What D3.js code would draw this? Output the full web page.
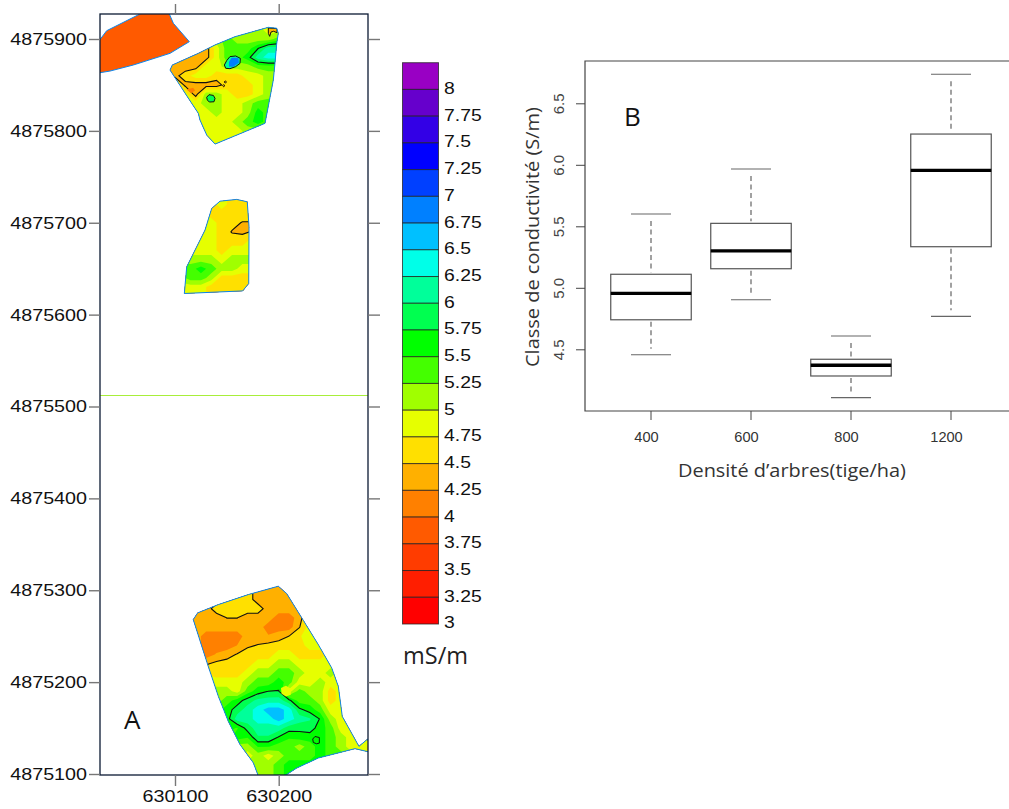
<!DOCTYPE html>
<html><head><meta charset="utf-8">
<script src="https://cdn.jsdelivr.net/npm/d3@7"></script>
<style>html,body{margin:0;padding:0;background:#fff}svg{display:block}</style>
</head><body><svg id="c" width="1009" height="809"></svg>
<script>
// ---------- Panel A : legend ----------
const levels=[8,7.75,7.5,7.25,7,6.75,6.5,6.25,6,5.75,5.5,5.25,5,4.75,4.5,4.25,4,3.75,3.5,3.25,3];
const levelColors=["#9900c4","#6600cc","#3300e6","#0000ff","#0040ff","#0080ff","#00c0ff","#00ffe8","#00ff9a","#00ff50","#00ff00","#44ff00","#a0ff00","#e6ff00","#ffe000","#ffb000","#ff8000","#ff5a00","#ff3c00","#ff1e00","#ff0000"];
const unitLabel="mS/m";
// ---------- Panel A : map axes ----------
const eastTicks=[630100,630200];
const northTicks=[4875100,4875200,4875300,4875400,4875500,4875600,4875700,4875800,4875900];
const E0=630000,N0=4875000;
// ---------- Panel A : field outlines, [east-E0, north-N0] in metres ----------
const fieldSouth=[[199.6,304.4],[207.7,296.4],[223.7,267.3],[238.2,240.8],[251.1,215.5],[257.5,195.4],[261.3,162.7],[277.4,130.1],[285.8,138.1],[290,123.2],[273.6,127.6],[238.2,117.4],[217.4,106.5],[202.9,96],[181,96],[175.5,112.3],[162.7,132],[151.4,157.3],[141.8,184.5],[131.5,219.1],[117.6,268.1],[121.9,275.4],[141.8,284.4],[170.7,295.3]];
const fieldMiddle=[[135.4,715.6],[143.4,723.5],[159.5,725.4],[169.7,722.8],[171.4,695.5],[171.1,633.9],[165.3,625.8],[109,623],[111.3,652],[128.9,691.9]];
const fieldNorth=[[95.2,866.2],[97.4,871.7],[122.5,884.4],[138.6,893.5],[157.9,902.5],[190,912.7],[198.1,911.7],[199.6,906.2],[198.1,895.3],[196.4,873.5],[194.8,855.3],[186.8,808.2],[138.6,785.6],[130.6,795.4],[124.1,811.8],[122.5,819.1],[116.1,830]];
const fieldNorthWest=[[34.1,909],[71.1,930],[93.5,930],[98.4,917.1],[113.8,897.1],[95.2,884.4],[59.8,871.7],[37.3,865.1],[20,861.9],[20,888]];
const fieldNorthWestValue=3.75;
// ---------- Panel A : conductivity read on a 10 m grid ----------
const gridSouth={east:110,north:310,rows:[
[4.25,4.25,4.25,4.25,4.5,4.5,4.5,4.25,4.25,4.25,4.25,4.25,4.25,4.25,4.25,4.25,4.25,4.25,4.25],
[4.25,4.25,4.25,4.25,4.5,4.5,4.5,4.25,4.25,4.25,4.25,4.25,4.25,4.25,4.25,4.25,4.25,4.25,4.25],
[4.25,4.25,4.25,4.25,4.5,4.5,4.5,4.25,4.25,4.25,4.25,4.25,4.25,4.25,4.25,4.25,4.25,4.25,4.25],
[4.25,4.25,4.25,4.5,4.5,4.5,4.5,4.5,4.25,4.25,4.25,4.25,4.25,4.25,4.25,4.25,4.25,4.25,4.25],
[4.25,4.25,4.25,4.25,4.38,4.38,4.25,4.25,4.25,4,4,4.25,4.75,4.75,4.75,4.75,4.75,4.75,4.75],
[4.25,4.25,4.25,4.25,4.25,4.25,4.25,4.25,4,4,4,4.36,4.75,4.75,4.75,4.75,4.75,4.75,4.75],
[4.25,4.25,4,4,4,4,4.25,4.13,4.15,4.25,4.38,4.6,4.75,4.75,4.75,4.75,4.75,4.75,4.75],
[4.25,4.25,4,4,4,4.13,4.3,4.4,4.45,4.5,4.5,4.5,4.75,4.75,4.75,4.75,4.75,4.75,4.75],
[4.25,4.25,4,4.15,4.25,4.4,4.6,4.5,4.5,4.75,4.75,4.5,4.5,4.5,4.75,4.75,4.75,4.75,4.75],
[4.25,4.25,4.34,4.45,4.5,4.5,4.5,4.75,4.75,5,5,4.75,4.75,4.75,4.75,4.75,4.75,4.75,4.75],
[4.5,4.5,4.6,4.5,4.5,4.5,4.75,5,5,5.25,5.25,5,4.75,4.75,5,4.75,4.75,4.75,4.75],
[4.75,4.75,4.75,4.75,4.75,4.75,5,5.25,5.25,5.5,5.25,4.75,4.75,5,4.75,4.75,4.75,4.75,4.75],
[5,5,5,5,5,4.75,5.25,5.5,5.63,5.64,4.75,5.25,5,5,4.5,4.75,4.75,4.75,4.75],
[5,5,5,5,5.25,5.5,5.75,5.95,6,6,5.7,5.25,5.25,5,4.5,4.75,4.75,4.75,4.75],
[5.25,5.25,5.25,5.25,5.5,5.75,6,6.25,6.5,6.5,6.25,5.7,5.5,5.25,4.75,4.75,4.75,4.75,4.75],
[5.25,5.25,5.25,5.25,5.5,6,6,6.25,6.25,6.5,6.25,6,5.9,5.6,5,4.75,4.75,4.75,4.75],
[5.25,5.25,5.25,5.25,5.5,5.35,5.75,6,6,6,5.75,5.7,5.75,5.5,5.25,4.75,4.75,4.75,4.75],
[5.25,5.25,5.25,5.25,5.25,5.5,5.4,5.85,5.85,5.6,5.4,5.5,5.5,5.5,5.25,5,4.75,4.75,4.75],
[5,5,5,5,5,5,5,5.4,5.4,5.25,5.25,5,5.25,5.5,5.25,5,4.75,4.75,4.5],
[5,5,5,5,5,5,4.75,5,4.75,5,5.25,5.25,5.25,5.5,5.25,5.25,5,4.75,4.5],
[5,5,5,5,5,5,5,5,5,5.25,5.5,5.5,5.5,5.5,5.25,5.25,5,5,5],
[5,5,5,5,5,5,5,5,5,5.25,5.5,5.5,5.5,5.5,5.5,5.5,5,5,5],
[5,5,5,5,5,5,5,5,5,5.25,5.5,5.5,5.5,5.5,5.5,5.5,5,5,5]]};
const gridMiddle={east:105,north:730,rows:[
[4.5,4.5,4.5,4.75,4.75,4.5,4.5,4.5],
[4.75,4.75,4.75,4.5,4.75,4.5,4.5,4.5],
[4.75,4.75,4.75,4.5,4.5,4.5,4.5,4.5],
[4.75,4.75,4.75,4.75,4.5,4.45,4.36,4.36],
[4.75,4.75,4.75,4.75,4.5,4.36,4.33,4.4],
[4.75,4.75,4.75,4.75,4.5,4.5,4.5,4.75],
[4.75,4.75,4.75,4.75,4.5,4.75,4.75,4.75],
[5,5,5,5,4.75,5,5,5],
[5.25,5.25,5.5,5.25,5,5,4.75,4.75],
[5,5.25,5.25,5,4.5,4.5,4.5,4.5],
[4.75,4.75,4.75,4.5,4.5,4.5,4.5,4.5],
[4.75,4.75,4.75,4.5,4.5,4.5,4.5,4.5]]};
const gridNorth={east:90,north:920,rows:[
[5,5,5,5,5,5,5,5,5,5,4.75,4.75],
[5,5,5,5,5,5,5,5,5,5,4.75,4.75],
[5,5,5,5,5,5,5.25,5,5,5,5,5.25],
[4.25,4.25,4.25,4.25,4.25,4.75,5.25,5.25,5.25,5.6,6,6],
[4.25,4.25,4.25,4.25,4.25,4.75,5.25,5.25,5.5,6,6.25,6.25],
[4.25,4.25,4.25,4.25,4.75,4.75,5,5,5,5.25,5.25,5.25],
[4.25,4.3,4.5,4.75,4.75,4.5,4.5,4.5,4.75,4.75,5,5],
[4.75,4.75,4.3,4.25,4.25,4.25,4.5,4.5,4.5,4.75,5,5],
[4.75,4.75,4.75,4.25,5,5,4.75,4.5,4.5,4.75,5,5],
[4.75,4.75,4.75,4.75,5,5,4.75,4.75,5,5.25,5.25,5.25],
[4.75,4.75,4.75,4.75,4.75,5,4.75,4.75,5,5.5,5.25,5.25],
[4.75,4.75,4.75,4.75,4.75,4.75,4.75,5,5.25,5.5,5.25,5.25],
[4.75,4.75,4.75,4.75,4.75,4.75,4.75,4.75,5,5,5,5],
[4.75,4.75,4.75,4.75,4.75,4.75,4.75,4.75,5,4.75,4.75,4.75],
[4.75,4.75,4.75,4.75,4.75,4.75,4.75,4.75,4.75,4.75,4.75,4.75]]};
const contourLines=[4.5,5.75];
// features too small for the 10 m grid
const patchesNorth=[
 {value:6,outlined:true,pts:[[147.6,871.7],[149.8,876.4],[153,880.8],[158.5,881.5],[163,878.9],[162.7,873.5],[158.5,869.9],[153,867.7],[148.9,868.1]]},
 {value:6.75,outlined:false,pts:[[152.1,875.3],[154.6,879.7],[161.1,879.7],[161.7,874.2],[156.2,869.9],[152.1,869.9]]},
 {value:5.75,outlined:true,pts:[[130.5,836.5],[132.8,839.4],[137,838.6],[138.6,835.4],[137.6,831.7],[133.1,831.4],[131.2,833.6]]},
 {value:4.25,outlined:true,pts:[[190,912],[198.4,911.3],[198.4,906.9],[195.1,908.4],[192.6,907.6],[191.3,902.9],[190,906.2]]},
 {value:4.25,outlined:true,pts:[[147.5,853.2],[148.5,854.4],[149.7,853.2],[148.5,852]]},
 {value:4.25,outlined:true,pts:[[145.9,849.2],[146.9,850.4],[148.1,849.2],[146.9,848]]},
 {value:4,outlined:false,pts:[[111.2,845],[117.5,847],[119.5,844],[115.5,841]]}
];
const patchesSouth=[
 {value:5.5,outlined:true,pts:[[232.8,138],[235,140.8],[239.2,139.7],[239.2,133.6],[236.6,132.9],[233.4,134.3]]},
 {value:4.75,outlined:false,pts:[[202.2,193.5],[207,196],[211.9,192.7],[211.6,186.2],[207,184.4],[202.8,187.3]]}
];
// ---------- Panel B : boxplot ----------
const densities=["400","600","800","1200"];
const whiskerLow=[4.456,4.903,4.107,4.768];
const q1=[4.74,5.155,4.283,5.334];
const medians=[4.955,5.30,4.37,5.955];
const q3=[5.11,5.524,4.419,6.25];
const whiskerHigh=[5.60,5.966,4.608,6.736];
const yTicksB=[4.5,5,5.5,6,6.5];

const svg=d3.select("#c");
const SANS="'Liberation Sans',Arial,sans-serif", HUM="'Open Sans','Noto Sans',sans-serif";
function stretch(sel,k){sel.each(function(){const l=this.getComputedTextLength();this.setAttribute("textLength",l*k);this.setAttribute("lengthAdjust","spacingAndGlyphs");});}

// ===== Panel A map =====
const frame={l:100,r:368,t:14,b:775};
const x=d3.scaleLinear().domain([630100,630200]).range([175,278.7]);
const y=d3.scaleLinear().domain([4875900,4875100]).range([39,774]);
const colorOf=d3.scaleOrdinal().domain(levels).range(levelColors);
const defs=svg.append("defs");
defs.append("clipPath").attr("id","frameClip").append("rect").attr("x",frame.l).attr("y",frame.t).attr("width",frame.r-frame.l).attr("height",frame.b-frame.t);
const poly=d3.line().x(p=>x(E0+p[0])).y(p=>y(N0+p[1])).curve(d3.curveLinearClosed);
const mapG=svg.append("g").attr("clip-path","url(#frameClip)");
// thin line crossing the map
mapG.append("line").attr("x1",frame.l).attr("x2",frame.r).attr("y1",395.5).attr("y2",395.5).attr("stroke","#a8ee3a").attr("stroke-width",1);

function drawField(name,outline,grid,patches){
  const clip=defs.append("clipPath").attr("id","f"+name);
  clip.append("path").attr("d",poly(outline));
  const g=mapG.append("g").attr("clip-path",`url(#f${name})`);
  const h=grid.rows.length,w=grid.rows[0].length,flat=grid.rows.flat();
  const proj=d3.geoTransform({point(gx,gy){
    this.stream.point(x(E0+grid.east+(gx-0.5)*10),y(N0+grid.north-(gy-0.5)*10));
  }});
  const path=d3.geoPath(proj);
  const asc=levels.slice().reverse();
  const contours=d3.contours().size([w,h]).thresholds(asc.map(l=>l-0.125))(flat);
  g.selectAll("path.band").data(contours).enter().append("path").attr("class","band")
    .attr("d",path).attr("fill",d=>colorOf(d.value+0.125));
  const lines=d3.contours().size([w,h]).thresholds(contourLines.map(l=>l-0.125))(flat);
  g.selectAll("path.iso").data(lines).enter().append("path").attr("class","iso")
    .attr("d",path).attr("fill","none").attr("stroke","#111").attr("stroke-width",1.1);
  g.selectAll("path.patch").data(patches).enter().append("path").attr("class","patch")
    .attr("d",d=>poly(d.pts)).attr("fill",d=>colorOf(d.value))
    .attr("stroke",d=>d.outlined?"#111":"none").attr("stroke-width",1);
}
drawField("S",fieldSouth,gridSouth,patchesSouth);
drawField("M",fieldMiddle,gridMiddle,[]);
drawField("N",fieldNorth,gridNorth,patchesNorth);
// NW block
mapG.append("path").attr("d",poly(fieldNorthWest)).attr("fill",colorOf(fieldNorthWestValue));
[fieldSouth,fieldMiddle,fieldNorth,fieldNorthWest].forEach(f=>{
  mapG.append("path").attr("d",poly(f)).attr("fill","none").attr("stroke","#0a86ee").attr("stroke-width",1);
});
// frame & axes
svg.append("rect").attr("x",frame.l).attr("y",frame.t).attr("width",frame.r-frame.l).attr("height",frame.b-frame.t)
  .attr("fill","none").attr("stroke","#0b1a33").attr("stroke-width",1.3);
function styleAxis(g,col){g.select(".domain").remove();g.selectAll(".tick line").attr("stroke",col).attr("stroke-width",1.4);}
const fmt=d3.format("d");
const ayL=svg.append("g").attr("transform",`translate(${frame.l},0)`).call(d3.axisLeft(y).tickValues(northTicks).tickFormat(fmt).tickSize(11).tickPadding(2));
styleAxis(ayL,"#777");
ayL.selectAll("text").attr("font-family",SANS).attr("font-size",17).attr("fill","#111").call(stretch,1.16);
const ayR=svg.append("g").attr("transform",`translate(${frame.r},0)`).call(d3.axisRight(y).tickValues(northTicks).tickFormat("").tickSize(12));
styleAxis(ayR,"#777");
const axT=svg.append("g").attr("transform",`translate(0,${frame.t})`).call(d3.axisTop(x).tickValues(eastTicks).tickFormat("").tickSize(10));
styleAxis(axT,"#777");
const axB=svg.append("g").attr("transform",`translate(0,${frame.b})`).call(d3.axisBottom(x).tickValues(eastTicks).tickFormat(fmt).tickSize(11).tickPadding(4));
styleAxis(axB,"#777");
axB.selectAll("text").attr("font-family",SANS).attr("font-size",17).attr("fill","#111").call(stretch,1.16);
svg.append("text").attr("x",124).attr("y",729).attr("font-family",HUM).attr("font-size",26).attr("fill","#111").text("A");

// ===== Legend =====
const lg=d3.scaleBand().domain(levels).range([62.7,624]);
const leg=svg.append("g");
leg.selectAll("rect").data(levels).enter().append("rect")
  .attr("x",402.5).attr("width",36).attr("y",d=>lg(d)).attr("height",lg.bandwidth())
  .attr("fill",d=>colorOf(d)).attr("stroke","#222").attr("stroke-opacity",.75).attr("stroke-width",1);
leg.selectAll("text").data(levels).enter().append("text")
  .attr("x",444).attr("y",d=>lg(d)+lg.bandwidth()-1.5).attr("dy","0.35em")
  .attr("font-family",SANS).attr("font-size",17).attr("fill","#111").text(d=>d).call(stretch,1.14);
svg.append("text").attr("x",403).attr("y",664).attr("font-family",HUM).attr("font-size",23.5).attr("fill","#222").text(unitLabel);

// ===== Panel B =====
const B={l:585,t:61,b:411,r:1009};
const yb=d3.scaleLinear().domain([4.5,6.5]).range([349.3,103.3]);
const xb=d3.scaleBand().domain(densities).range([601,1001]).paddingInner(0).paddingOuter(0);
const panel=svg.append("g");
panel.append("path").attr("d",`M${B.r},${B.t}H${B.l}V${B.b}H${B.r}`).attr("fill","none").attr("stroke","#444").attr("stroke-width",1.2);
const axy=panel.append("g").attr("transform",`translate(${B.l},0)`).call(d3.axisLeft(yb).tickValues(yTicksB).tickFormat(d3.format(".1f")).tickSize(9));
axy.select(".domain").remove();axy.selectAll(".tick line").attr("stroke","#444");
axy.selectAll("text").attr("font-family",SANS).attr("font-size",15).attr("fill","#444")
  .attr("text-anchor","middle").attr("dy",0).attr("x",0).attr("y",0)
  .attr("transform","translate(-21,0) rotate(-90)");
const axx=panel.append("g").attr("transform",`translate(0,${B.b})`).call(d3.axisBottom(xb).tickSize(9));
axx.select(".domain").remove();axx.selectAll(".tick line").attr("stroke","#444");
axx.selectAll("text").attr("font-family",SANS).attr("font-size",14.6).attr("fill","#333").attr("x",-4.5).attr("y",21);
const bw=80.5,capw=40;
const bx=panel.selectAll("g.box").data(densities).enter().append("g").attr("class","box")
  .attr("transform",d=>`translate(${xb(d)+xb.bandwidth()/2},0)`);
bx.append("line").attr("y1",(d,i)=>yb(whiskerHigh[i])+7).attr("y2",(d,i)=>yb(q3[i])-2).attr("stroke","#555").attr("stroke-width",1.1).attr("stroke-dasharray","5 3.5");
bx.append("line").attr("y1",(d,i)=>yb(q1[i])+2).attr("y2",(d,i)=>yb(whiskerLow[i])-6).attr("stroke","#555").attr("stroke-width",1.1).attr("stroke-dasharray","5 3.5");
bx.append("line").attr("x1",-capw/2).attr("x2",capw/2).attr("y1",(d,i)=>yb(whiskerHigh[i])).attr("y2",(d,i)=>yb(whiskerHigh[i])).attr("stroke","#666").attr("stroke-width",1.1);
bx.append("line").attr("x1",-capw/2).attr("x2",capw/2).attr("y1",(d,i)=>yb(whiskerLow[i])).attr("y2",(d,i)=>yb(whiskerLow[i])).attr("stroke","#666").attr("stroke-width",1.1);
bx.append("rect").attr("x",-bw/2).attr("width",bw).attr("y",(d,i)=>yb(q3[i])).attr("height",(d,i)=>yb(q1[i])-yb(q3[i])).attr("fill","#fff").attr("stroke","#555").attr("stroke-width",1.2);
bx.append("line").attr("x1",-bw/2).attr("x2",bw/2).attr("y1",(d,i)=>yb(medians[i])).attr("y2",(d,i)=>yb(medians[i])).attr("stroke","#000").attr("stroke-width",3.4);
panel.append("text").attr("x",624).attr("y",126).attr("font-family",HUM).attr("font-size",26).attr("fill","#111").text("B");
panel.append("text").attr("x",792).attr("y",477).attr("text-anchor","middle").attr("font-family",HUM).attr("font-size",19).attr("fill","#333").attr("textLength",228).attr("lengthAdjust","spacingAndGlyphs").text("Densité d’arbres(tige/ha)");
panel.append("text").attr("transform","translate(539,237) rotate(-90)").attr("text-anchor","middle").attr("font-family",HUM).attr("font-size",19).attr("fill","#333").attr("textLength",260).attr("lengthAdjust","spacingAndGlyphs").text("Classe de conductivité (S/m)");
</script></body></html>
